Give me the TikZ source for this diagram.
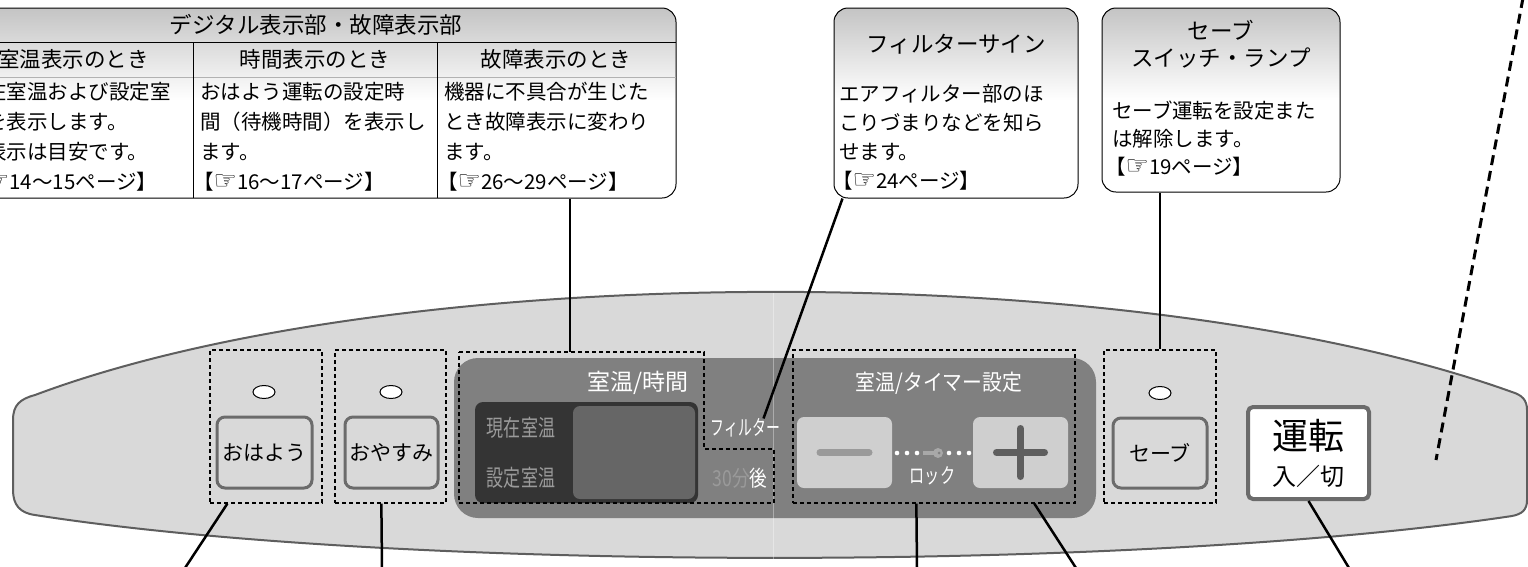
\documentclass[tikz,border=0pt]{standalone}
\usepackage{fontspec}
\setmainfont{Noto Sans CJK JP}
\newfontfamily\dv{DejaVu Sans}
\usetikzlibrary{shapes.geometric,calc}
\definecolor{panelL}{HTML}{D9D9D9}
\definecolor{panelB}{HTML}{5E5E5E}
\definecolor{darkP}{HTML}{808080}
\definecolor{dispC}{HTML}{343434}
\definecolor{scrC}{HTML}{666666}
\definecolor{dispTxt}{HTML}{9A9A9A}
\definecolor{btnB}{HTML}{6B6B6B}
\definecolor{keyBtn}{HTML}{CFCFCF}
\definecolor{minusBar}{HTML}{9A9A9A}
\definecolor{plusBar}{HTML}{5E5E5E}
\definecolor{keyC}{HTML}{A8A8A8}
\definecolor{shadeC}{HTML}{C4C4C4}
\newcommand\fs[1]{\fontsize{#1}{#1}\selectfont}
\newcommand\sx[2]{\scalebox{#1}[1]{#2}}
\newcommand\hand{{\dv\fontsize{26}{26}\selectfont ☞}}
\begin{document}
\begin{tikzpicture}[x=1pt,y=-1pt,
  conn/.style={line width=2.5pt, black},
  dbox/.style={draw=black, line width=1.3pt, dash pattern=on 4pt off 3pt},
  callout/.style={draw=black, line width=1pt, rounded corners=14pt, inner sep=0pt},
  pl/.style={inner sep=0pt},
  bodyt/.style={anchor=west, inner sep=0pt, font=\fs{20.5}},
  btn/.style={draw=btnB, fill=panelL, line width=3pt, rounded corners=8pt, inner sep=0pt, font=\fs{21}},
  led/.style={ellipse, draw=black, fill=white, line width=1pt, minimum width=22pt, minimum height=13pt, inner sep=0pt},
  keybtn/.style={fill=keyBtn, rounded corners=7pt, minimum width=95pt, minimum height=71pt, inner sep=0pt}
]
\useasboundingbox (0,0) rectangle (1528,566);

% ---------- panel body ----------
\filldraw[fill=panelL, draw=panelB, line width=2pt]
  (35,395) .. controls (400,258) and (1140,258) .. (1512,392)
  .. controls (1522,395) and (1527,400) .. (1527,410) -- (1527,500)
  .. controls (1527,510) and (1522,514) .. (1512,516)
  .. controls (1140,572) and (400,572) .. (35,515)
  .. controls (20,513) and (13,505) .. (13,490) -- (13,420)
  .. controls (13,405) and (20,399) .. (35,395) -- cycle;

% ---------- dark panel ----------
\node[fill=darkP, rounded corners=24pt, minimum width=642pt, minimum height=160pt, inner sep=0pt] (dark) at (775,438) {};
\draw[white, opacity=0.35, line width=0.8pt] (773,293) -- (773,559);
\node[fill=dispC, rounded corners=8pt, minimum width=223pt, minimum height=101pt, inner sep=0pt] (disp) at (586.5,452.5) {};
\node[fill=scrC, rounded corners=7pt, minimum width=122pt, minimum height=93pt, inner sep=0pt] (scr) at (634,452.5) {};
\node[pl, text=white, font=\fs{23}] (lblRT) at (637.5,383) {室温/時間};
\node[pl, text=dispTxt, font=\fs{23}] (lblGen) at (521,428) {\sx{0.74}{現在室温}};
\node[pl, text=dispTxt, font=\fs{23}] (lblSet) at (521,478) {\sx{0.74}{設定室温}};
\node[pl, text=white, font=\fs{21}] (filtlbl) at (745.5,428) {\sx{0.66}{フィルター}};
\node[pl, font=\fs{22}] (lbl30) at (740,478) {\sx{0.8}{\textcolor{dispTxt}{30分}\textcolor{white}{後}}};
\node[pl, text=white, font=\fs{22}] (lblTimer) at (939,383) {\sx{0.9}{室温/タイマー設定}};

\node[keybtn] (minus) at (844.5,452.5) {};
\draw[minusBar, line width=7pt, line cap=round] ([xshift=-24.5pt]minus.center) -- ([xshift=24.5pt]minus.center);
\node[keybtn] (plus) at (1020.5,452.5) {};
\draw[plusBar, line width=7pt, line cap=round] ([xshift=-24pt]plus.center) -- ([xshift=24pt]plus.center);
\draw[plusBar, line width=7pt, line cap=round] ([yshift=-24pt]plus.center) -- ([yshift=24pt]plus.center);
\foreach \x in {897,907,917,949,959,969} \fill[white] (\x,453) circle (2.3pt);
\draw[keyC, line width=3.5pt] (923,453) -- (935,453);
\fill[keyC] (938,453) circle (5pt);
\fill[darkP] (939,453) circle (1.5pt);
\node[pl, text=white, font=\fs{21}] (lock) at (932.5,476) {\sx{0.72}{ロック}};

% dashed groups
\draw[dbox] (459,352) -- (704,352) -- (704,449) -- (774,449) -- (774,503) -- (459,503) -- cycle;
\coordinate (d1top) at (570,352);
\node[dbox, minimum width=112pt, minimum height=153pt, inner sep=0pt] (dOhayo) at (266,426.5) {};
\node[dbox, minimum width=111pt, minimum height=153pt, inner sep=0pt] (dOyasumi) at (390.5,426.5) {};
\node[dbox, minimum width=282pt, minimum height=153pt, inner sep=0pt] (dTimer) at (934,426.5) {};
\node[dbox, minimum width=112pt, minimum height=153pt, inner sep=0pt] (dSave) at (1160,426.5) {};

% buttons and lamps
\node[led] (ledO) at (264,392) {};
\node[led] (ledY) at (391,392) {};
\node[led] (ledS) at (1160,393) {};
\node[btn, minimum width=95pt, minimum height=71pt] (bOhayo) at (264.5,452.5) {おはよう};
\node[btn, minimum width=93pt, minimum height=71pt] (bOyasumi) at (391.5,452.5) {おやすみ};
\node[btn, minimum width=94pt, minimum height=70pt] (bSave) at (1160,453) {セーブ};
\node[fill=white, draw=btnB, line width=4pt, rounded corners=5pt, minimum width=121pt, minimum height=92pt, inner sep=0pt] (unten) at (1308.5,453) {};
\node[pl, font=\fs{36}] (untenA) at (1308.5,436) {運転};
\node[pl, font=\fs{24}] (untenB) at (1308.5,476) {入／切};

% ---------- callout: table ----------
\begin{scope}
  \clip[rounded corners=14pt] (-30,8) rectangle (676,198);
  \fill[white] (-30,8) rectangle (676,198);
  \shade[top color=shadeC, bottom color=white] (-30,8) rectangle (676,100);
\end{scope}
\node[callout, minimum width=706pt, minimum height=190pt] (tbl) at (323,103) {};
\draw[line width=1pt] (-30,42) -- (676,42);
\draw[gray!60, line width=0.6pt] (-30,77) -- (676,77);
\draw[line width=0.8pt] (193,42) -- (193,198);
\draw[line width=0.8pt] (437,42) -- (437,198);
\node[pl, font=\fs{22.5}] (tTitle) at (316,25) {デジタル表示部・故障表示部};
\node[pl, font=\fs{21.5}, anchor=west] (h1) at (-2,59) {室温表示のとき};
\node[pl, font=\fs{21.5}] (h2) at (315,59) {時間表示のとき};
\node[pl, font=\fs{21.5}] (h3) at (556,59) {故障表示のとき};
\node[bodyt] (a1) at (-14,92) {在室温および設定室};
\node[bodyt] (a2) at (-14,122) {を表示します。};
\node[bodyt] (a3) at (-14,152) {表示は目安です。};
\node[bodyt] (a4) at (-14,182) {\hand 14～15ページ】};
\node[bodyt] (b1) at (200,92) {おはよう運転の設定時};
\node[bodyt] (b2) at (200,122) {間（待機時間）を表示し};
\node[bodyt] (b3) at (200,152) {ます。};
\node[bodyt] (b4) at (193,182) {【\hand 16～17ページ】};
\node[bodyt] (c1) at (444,92) {機器に不具合が生じた};
\node[bodyt] (c2) at (444,122) {とき故障表示に変わり};
\node[bodyt] (c3) at (444,152) {ます。};
\node[bodyt] (c4) at (437,182) {【\hand 26～29ページ】};

% ---------- callout: filter ----------
\begin{scope}
  \clip[rounded corners=14pt] (834,8) rectangle (1078,198);
  \fill[white] (834,8) rectangle (1078,198);
  \shade[top color=shadeC, bottom color=white] (834,8) rectangle (1078,100);
\end{scope}
\node[callout, minimum width=244pt, minimum height=190pt] (filt) at (956,103) {};
\node[pl, font=\fs{22.5}] (fT) at (956,44) {フィルターサイン};
\node[bodyt] (f1) at (839,94) {エアフィルター部のほ};
\node[bodyt] (f2) at (839,123) {こりづまりなどを知ら};
\node[bodyt] (f3) at (839,152) {せます。};
\node[bodyt] (f4) at (832,181) {【\hand 24ページ】};

% ---------- callout: save ----------
\begin{scope}
  \clip[rounded corners=14pt] (1102,8) rectangle (1340,192);
  \fill[white] (1102,8) rectangle (1340,192);
  \shade[top color=shadeC, bottom color=white] (1102,8) rectangle (1340,100);
\end{scope}
\node[callout, minimum width=238pt, minimum height=184pt] (save) at (1221,100) {};
\node[pl, font=\fs{22.5}] (sT1) at (1221,30) {セーブ};
\node[pl, font=\fs{22.5}] (sT2) at (1221,58) {スイッチ・ランプ};
\node[bodyt] (s1) at (1112,111) {セーブ運転を設定また};
\node[bodyt] (s2) at (1112,139) {は解除します。};
\node[bodyt] (s3) at (1105,167) {【\hand 19ページ】};

% ---------- connectors ----------
\coordinate (eOhayo) at (185,568);
\coordinate (eOyasumi) at (382,568);
\coordinate (eLock) at (917,568);
\coordinate (ePlus) at (1076,568);
\coordinate (eUnten) at (1349,568);
\coordinate (dTop) at (1523,-2);
\coordinate (dEnd) at (1436,460);
\draw[conn] (tbl.south -| d1top) -- (d1top);
\draw[conn] ([xshift=9pt]filt.south west) -- ([xshift=18pt]filtlbl.north);
\draw[conn] (dSave.north |- save.south) -- (dSave.north);
\draw[conn] ([xshift=18pt]dOhayo.south west) -- (eOhayo);
\draw[conn] ([xshift=47pt]dOyasumi.south west) -- (eOyasumi);
\draw[conn] ([xshift=124pt]dTimer.south west) -- (eLock);
\draw[conn] ([xshift=242pt]dTimer.south west) -- (ePlus);
\draw[conn] (unten.south) -- (eUnten);
\draw[line width=3pt, dash pattern=on 10pt off 6pt] (dTop) -- (dEnd);
\end{tikzpicture}
\end{document}
